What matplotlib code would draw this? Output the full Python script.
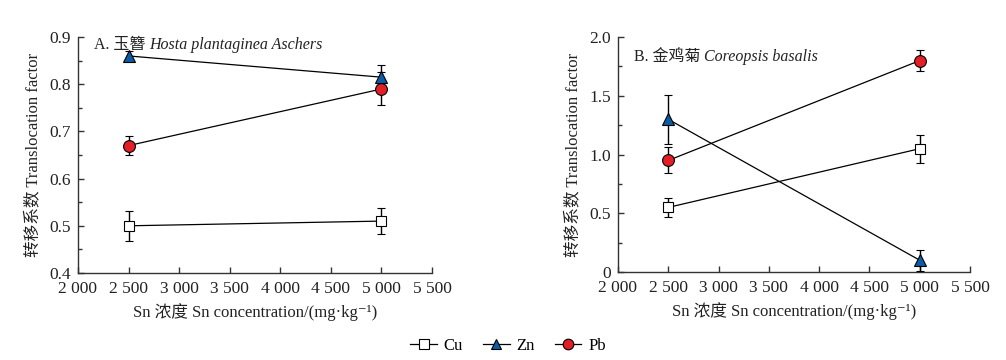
import matplotlib
matplotlib.use("Agg")
import matplotlib.pyplot as plt
from matplotlib.lines import Line2D

plt.rcParams["font.family"] = ["Liberation Serif", "Noto Sans CJK SC", "DejaVu Serif"]

conc = [2500, 5000]
x_ticks = [2000, 2500, 3000, 3500, 4000, 4500, 5000, 5500]
x_labels = ["2 000", "2 500", "3 000", "3 500", "4 000", "4 500", "5 000", "5 500"]

# panel A: Hosta plantaginea
a_cu = [0.50, 0.51]
a_cu_err = [0.032, 0.028]
a_zn = [0.86, 0.815]
a_zn_err = [0.010, 0.025]
a_pb = [0.67, 0.79]
a_pb_err = [0.020, 0.035]
a_yticks = [0.4, 0.5, 0.6, 0.7, 0.8, 0.9]
a_ylabels = ["0.4", "0.5", "0.6", "0.7", "0.8", "0.9"]

# panel B: Coreopsis basalis
b_cu = [0.55, 1.05]
b_cu_err = [0.08, 0.12]
b_zn = [1.30, 0.10]
b_zn_err = [0.21, 0.09]
b_pb = [0.95, 1.80]
b_pb_err = [0.11, 0.09]
b_yticks = [0, 0.5, 1.0, 1.5, 2.0]
b_ylabels = ["0", "0.5", "1.0", "1.5", "2.0"]

styles = {
    "Cu": dict(marker="s", mfc="white", ms=7.5),
    "Zn": dict(marker="^", mfc="#0b5ba6", ms=8.5),
    "Pb": dict(marker="o", mfc="#e41e26", ms=8.5),
}

fig = plt.figure(figsize=(10.06, 3.6), dpi=100)
ax_a = fig.add_axes([0.0775, 0.2417, 0.352, 0.6553])
ax_b = fig.add_axes([0.6143, 0.2444, 0.350, 0.6526])


def draw_panel(ax, series, yticks, ylabels, ylim, minor, title_cn, title_la, title_xy):
    for name, vals, errs in series:
        st = styles[name]
        ax.errorbar(conc, vals, yerr=errs, color="black", lw=0.9, elinewidth=1.0,
                    capsize=3, capthick=1.0, marker=st["marker"], mfc=st["mfc"],
                    mec="black", mew=0.8, ms=st["ms"], zorder=3)
    ax.set_xlim(2000, 5500)
    ax.set_ylim(*ylim)
    ax.set_xticks(x_ticks)
    ax.set_xticklabels(x_labels)
    ax.set_yticks(yticks)
    ax.set_yticklabels(ylabels)
    ax.set_yticks(minor, minor=True)
    for s in ["top", "right"]:
        ax.spines[s].set_visible(False)
    for s in ["left", "bottom"]:
        ax.spines[s].set_linewidth(1.0)
        ax.spines[s].set_color("#333333")
    ax.tick_params(direction="in", length=4, width=1.0, labelsize=12.5,
                   colors="#333333", labelcolor="#222222")
    ax.tick_params(axis="y", which="minor", direction="in", length=3, width=1.0, color="#333333")
    ax.tick_params(axis="x", pad=6)
    ax.tick_params(axis="y", pad=5)
    ax.set_xlabel("Sn 浓度 Sn concentration/(mg·kg⁻¹)", fontsize=12, labelpad=4, color="#222222")
    ax.set_ylabel("转移系数 Translocation factor", fontsize=12, labelpad=6, color="#222222")
    t1 = ax.text(title_xy[0], title_xy[1], title_cn, transform=ax.transAxes,
                 fontsize=11.5, va="top", ha="left", color="#222222")
    ax.annotate(title_la, xy=(1, 0), xycoords=t1, va="bottom", ha="left",
                fontsize=11.5, style="italic", color="#222222")


draw_panel(ax_a, [("Cu", a_cu, a_cu_err), ("Zn", a_zn, a_zn_err), ("Pb", a_pb, a_pb_err)],
           a_yticks, a_ylabels, (0.4, 0.9), [0.45, 0.55, 0.65, 0.75, 0.85],
           "A. 玉簪 ", "Hosta plantaginea Aschers", (0.045, 1.0))
draw_panel(ax_b, [("Cu", b_cu, b_cu_err), ("Zn", b_zn, b_zn_err), ("Pb", b_pb, b_pb_err)],
           b_yticks, b_ylabels, (0, 2.0), [0.25, 0.75, 1.25, 1.75],
           "B. 金鸡菊 ", "Coreopsis basalis", (0.045, 0.95))

handles = [Line2D([0], [0], color="black", lw=0.9, marker=styles[n]["marker"],
                  mfc=styles[n]["mfc"], mec="black", mew=0.8, ms=styles[n]["ms"] * 0.9)
           for n in ["Cu", "Zn", "Pb"]]
fig.legend(handles, ["Cu", "Zn", "Pb"], loc="lower center", bbox_to_anchor=(0.505, -0.025),
           ncol=3, frameon=False, fontsize=12, handlelength=1.6, columnspacing=1.2,
           handletextpad=0.4)

fig.savefig("out.png", dpi=100, facecolor="white")
